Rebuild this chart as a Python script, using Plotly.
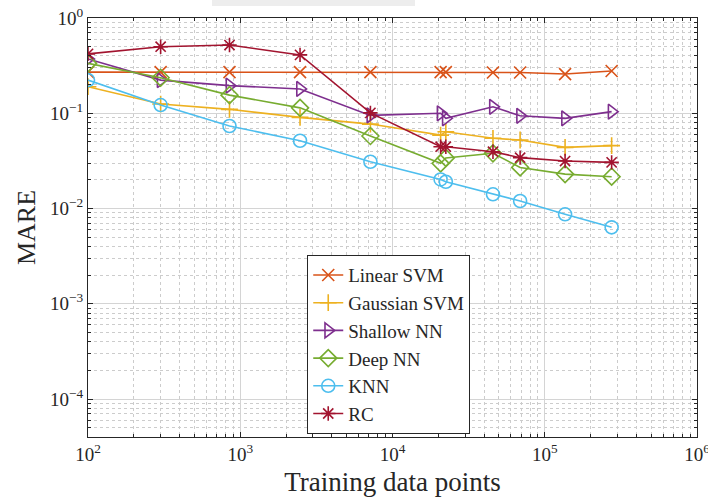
import plotly.graph_objects as go

# Training set sizes
n_train = [100, 300, 850, 2470, 7160, 20700, 22400, 45700, 68900, 136000, 275000]

# Mean absolute relative error per model
linear_svm = [0.27, 0.27, 0.27, 0.27, 0.27, 0.27, 0.27, 0.268, 0.268, 0.258, 0.278]
gaussian_svm = [0.19, 0.125, 0.11, 0.0906, 0.077, 0.059, 0.064, 0.0546, 0.0524, 0.0439, 0.0457]
shallow_nn = [0.371, 0.223, 0.195, 0.18, 0.095, 0.10, 0.0885, 0.117, 0.094, 0.0885, 0.104]
deep_nn = [0.334, 0.236, 0.155, 0.114, 0.0577, 0.0298, 0.034, 0.038, 0.027, 0.023, 0.0216]
knn = [0.223, 0.122, 0.0735, 0.0515, 0.031, 0.0202, 0.0191, 0.0141, 0.012, 0.0087, 0.00635]
rc = [0.42, 0.50, 0.52, 0.41, 0.101, 0.0446, 0.0446, 0.0395, 0.0342, 0.0315, 0.0305]

series = [
    ("Linear SVM", linear_svm, "#D95319", "x-thin-open"),
    ("Gaussian SVM", gaussian_svm, "#EDB120", "cross-thin-open"),
    ("Shallow NN", shallow_nn, "#7E2F8E", "triangle-right-open"),
    ("Deep NN", deep_nn, "#77AC30", "diamond-open"),
    ("KNN", knn, "#4DBEEE", "circle-open"),
    ("RC", rc, "#A2142F", "asterisk-open"),
]

x_tickvals = [1e2, 1e3, 1e4, 1e5, 1e6]
x_ticktext = ["10<sup>2</sup>", "10<sup>3</sup>", "10<sup>4</sup>", "10<sup>5</sup>", "10<sup>6</sup>"]
y_tickvals = [1e-4, 1e-3, 1e-2, 1e-1, 1e0]
y_ticktext = ["10<sup>\u22124</sup>", "10<sup>\u22123</sup>", "10<sup>\u22122</sup>",
              "10<sup>\u22121</sup>", "10<sup>0</sup>"]

FONT = "Liberation Serif"
INK = "#262626"

fig = go.Figure()
for name, vals, color, sym in series:
    size = 13 if sym in ("circle-open", "diamond-open", "triangle-right-open") else 12
    fig.add_trace(go.Scatter(
        x=n_train, y=vals, name=name, mode="lines+markers",
        line=dict(color=color, width=1.6),
        marker=dict(symbol=sym, size=size, color=color,
                    line=dict(color=color, width=1.6)),
    ))

axis_common = dict(
    type="log",
    automargin=False,
    showline=True, linecolor=INK, linewidth=1, mirror="allticks",
    ticks="inside", ticklen=5, tickcolor=INK,
    showgrid=True, gridcolor="#d4d4d4", gridwidth=1,
    zeroline=False,
    ticklabeloverflow="allow",
    tickfont=dict(family=FONT, size=19, color=INK),
    minor=dict(dtick="D1", ticks="inside", ticklen=3, tickcolor=INK,
               showgrid=True, gridcolor="#cccccc", griddash="dot", gridwidth=1),
)

fig.update_xaxes(
    **axis_common, range=[2, 6],
    tickmode="array", tickvals=x_tickvals, ticktext=x_ticktext,
    title=dict(text="Training data points", font=dict(family=FONT, size=27, color=INK),
               standoff=8),
)
fig.update_yaxes(
    **axis_common, range=[-4.398, 0],
    tickmode="array", tickvals=y_tickvals, ticktext=y_ticktext,
    title=dict(text="MARE", font=dict(family=FONT, size=26, color=INK), standoff=6),
)

# partial header panel above the axes
fig.add_shape(type="rect", xref="paper", yref="paper",
              x0=(212 - 88) / 609, x1=(415 - 88) / 609,
              y0=1 + 12 / 419, y1=1 + 18 / 419,
              fillcolor="#ededed", line=dict(width=0), layer="below")

fig.update_layout(
    width=708, height=497,
    margin=dict(l=88, r=11, t=18, b=60, autoexpand=False),
    paper_bgcolor="white", plot_bgcolor="white",
    font=dict(family=FONT, color=INK),
    legend=dict(
        x=0.36, y=0.434, xanchor="left", yanchor="top",
        bgcolor="white", bordercolor=INK, borderwidth=1,
        font=dict(family=FONT, size=19, color=INK),
        itemwidth=30, tracegroupgap=0,
    ),
    showlegend=True,
)

fig.write_html("out.html")
